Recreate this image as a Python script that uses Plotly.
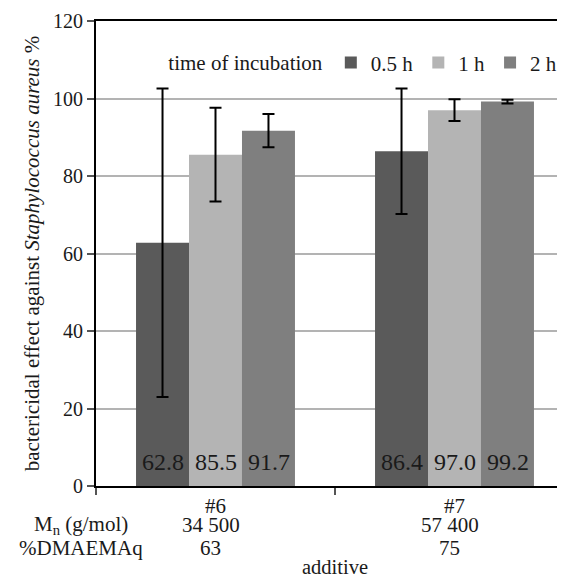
import plotly.graph_objects as go

# ---- data ----
categories = ["#6", "#7"]
mn_values = ["34 500", "57 400"]
dmaema_values = ["63", "75"]
series_names = ["0.5 h", "1 h", "2 h"]
values_05h = [62.8, 86.4]
values_1h = [85.5, 97.0]
values_2h = [91.7, 99.2]
err_05h = [39.8, 16.2]
err_1h = [12.1, 2.8]
err_2h = [4.3, 0.5]
y_ticks = [0, 20, 40, 60, 80, 100, 120]

colors = ["#5a5a5a", "#b4b4b4", "#7f7f7f"]
FONT = "'Liberation Serif', 'Times New Roman', Times, serif"
TXT = "#1a1a1a"

# page has an 8px body margin -> figure is offset by 8px
W, H = 557, 571
ml, mr, mt, mb = 88, 0, 13, 93
plot_w = W - ml - mr
cat_px = 239.0
bar_px = 53.0
x_range = [-0.5, -0.5 + plot_w / cat_px]

fig = go.Figure()
all_vals = [values_05h, values_1h, values_2h]
all_errs = [err_05h, err_1h, err_2h]
for name, vals, errs, col in zip(series_names, all_vals, all_errs, colors):
    fig.add_trace(go.Bar(
        name=name, x=categories, y=vals,
        marker=dict(color=col, line=dict(width=0)),
        error_y=dict(type="data", array=errs, visible=True, color="black",
                     thickness=2, width=6),
    ))

# value labels near the bottom of each bar
for si, vals in enumerate(all_vals):
    for cat, v in zip(categories, vals):
        fig.add_annotation(x=cat, xref="x", y=0, yref="y",
                           xshift=(si - 1) * bar_px, yshift=24,
                           text=f"{v:.1f}", showarrow=False,
                           xanchor="center", yanchor="middle",
                           font=dict(family=FONT, size=24, color=TXT))

fig.update_layout(
    width=W, height=H,
    margin=dict(l=ml, r=mr, t=mt, b=mb, pad=0),
    paper_bgcolor="white", plot_bgcolor="white",
    barmode="group", bargap=0.335, bargroupgap=0,
    font=dict(family=FONT, size=21, color=TXT),
    legend=dict(
        orientation="h", x=0.15, y=0.91, xanchor="left", yanchor="middle",
        title=dict(text="time of incubation", side="left",
                   font=dict(family=FONT, size=21, color=TXT)),
        font=dict(family=FONT, size=21, color=TXT), bgcolor="rgba(0,0,0,0)",
        itemwidth=30, tracegroupgap=0,
    ),
    showlegend=True,
)

fig.update_xaxes(
    type="category", range=x_range, tickson="boundaries",
    showline=True, linecolor="black", linewidth=2, mirror=True,
    ticks="outside", ticklen=7, tickcolor="#555", tickwidth=1.5,
    tickvals=categories, ticktext=categories,
    tickfont=dict(family=FONT, size=21, color=TXT),
    showgrid=False,
)
fig.update_yaxes(
    range=[0, 120], tickvals=y_ticks,
    showline=True, linecolor="black", linewidth=2,
    ticks="outside", ticklen=7, tickcolor="#555", tickwidth=1.5,
    tickfont=dict(family=FONT, size=20, color=TXT),
    showgrid=True, gridcolor="#b3b3b3", gridwidth=1.5,
    zeroline=False,
    title=dict(text="bactericidal effect against <i>Staphylococcus aureus</i> %",
               font=dict(family=FONT, size=21, color=TXT), standoff=8),
)

# extra rows of category information under the tick labels
for cat, mn, dm in zip(categories, mn_values, dmaema_values):
    fig.add_annotation(x=cat, xref="x", y=0, yref="paper", yshift=-39, xshift=-5,
                       text=mn, showarrow=False, xanchor="center", yanchor="middle",
                       borderpad=0, font=dict(family=FONT, size=21, color=TXT))
    fig.add_annotation(x=cat, xref="x", y=0, yref="paper", yshift=-62, xshift=-5,
                       text=dm, showarrow=False, xanchor="center", yanchor="middle",
                       borderpad=0, font=dict(family=FONT, size=21, color=TXT))

row_x = (73 - ml) / plot_w
fig.add_annotation(x=row_x, xref="paper", y=0, yref="paper", yshift=-39,
                   text="M<sub>n</sub> (g/mol)", showarrow=False,
                   xanchor="center", yanchor="middle", borderpad=0,
                   font=dict(family=FONT, size=21, color=TXT))
fig.add_annotation(x=row_x, xref="paper", y=0, yref="paper", yshift=-62,
                   text="%DMAEMAq", showarrow=False,
                   xanchor="center", yanchor="middle", borderpad=0,
                   font=dict(family=FONT, size=21, color=TXT))
fig.add_annotation(x=(327 - ml) / plot_w, xref="paper", y=0, yref="paper", yshift=-81,
                   text="additive", showarrow=False,
                   xanchor="center", yanchor="middle", borderpad=0,
                   font=dict(family=FONT, size=20.5, color=TXT))

fig.write_html("out.html")
